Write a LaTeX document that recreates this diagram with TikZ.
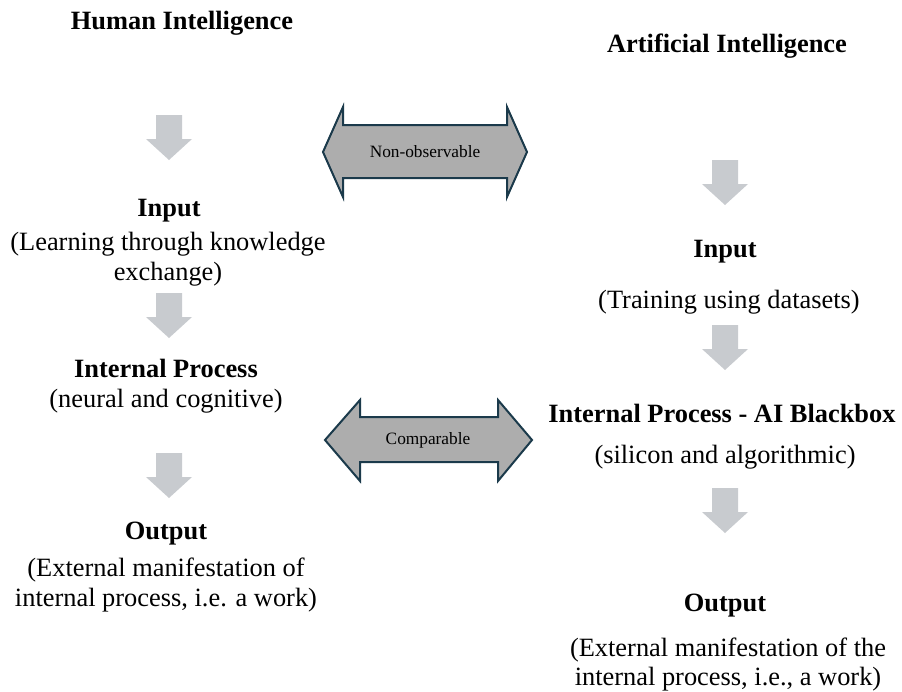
\documentclass[tikz,border=0pt]{standalone}
\usepackage{fontspec}
\setmainfont{Liberation Serif}
\begin{document}
\begin{tikzpicture}[x=1pt,y=-1pt,
  body/.style={font=\fontsize{26.4}{30}\selectfont, anchor=base, inner sep=0pt},
  head/.style={body, font=\fontsize{26.4}{30}\selectfont\bfseries},
  tag/.style={font=\fontsize{17.3}{20}\selectfont, inner sep=0pt},
  blockarrow/.style={fill=downgray, draw=none},
  twoway/.style={fill=midgray, draw=edgeblue, line width=2pt, line join=miter},
  pics/downarr/.style={code={
    \fill[blockarrow] (-13,0) -- (13,0) -- (13,24) -- (23,24) -- (0,45)
      -- (-23,24) -- (-13,24) -- cycle;}}
]
\definecolor{downgray}{RGB}{200,203,207}
\definecolor{midgray}{RGB}{173,173,173}
\definecolor{edgeblue}{RGB}{27,58,75}
\useasboundingbox (0,0) rectangle (902,691);

% ---- Human intelligence column ----
\node[head] (hTitle) at (182,29) {Human Intelligence};
\pic at (169,115) {downarr};
\node[head] (hIn) at (169,216) {Input};
\node[body] (hIn1) at (168,250) {(Learning through knowledge};
\node[body] (hIn2) at (168,280) {exchange)};
\pic at (169,293) {downarr};
\node[head] (hProc) at (166,377) {Internal Process};
\node[body] (hProc1) at (166,407) {(neural and cognitive)};
\pic at (169,453) {downarr};
\node[head] (hOut) at (166,539) {Output};
\node[body] (hOut1) at (166,576) {(External manifestation of};
\node[body] (hOut2) at (166,606) {internal process, i.e. a work)};

% ---- Artificial intelligence column ----
\node[head] (aTitle) at (727,52) {Artificial Intelligence};
\pic at (725,160) {downarr};
\node[head] (aIn) at (725,257) {Input};
\node[body] (aIn1) at (729,308) {(Training using datasets)};
\pic at (725,325) {downarr};
\node[head] (aProc) at (722,422) {Internal Process - AI Blackbox};
\node[body] (aProc1) at (725,463) {(silicon and algorithmic)};
\pic at (725,488) {downarr};
\node[head] (aOut) at (725,611) {Output};
\node[body] (aOut1) at (728,656) {(External manifestation of the};
\node[body] (aOut2) at (728,685) {internal process, i.e., a work)};

% ---- two-way arrows between the columns ----
\draw[twoway] (323,152) -- (343,107) -- (343,125) -- (507,125) -- (507,107)
  -- (527,152) -- (507,197) -- (507,178) -- (343,178) -- (343,197) -- cycle;
\node[tag] (nonobs) at (425,152) {Non-observable};

\draw[twoway] (325,440) -- (360,400) -- (360,417) -- (498,417) -- (498,400)
  -- (532,440) -- (498,481) -- (498,462) -- (360,462) -- (360,481) -- cycle;
\node[tag] (comp) at (428,440) {Comparable};
\end{tikzpicture}
\end{document}
